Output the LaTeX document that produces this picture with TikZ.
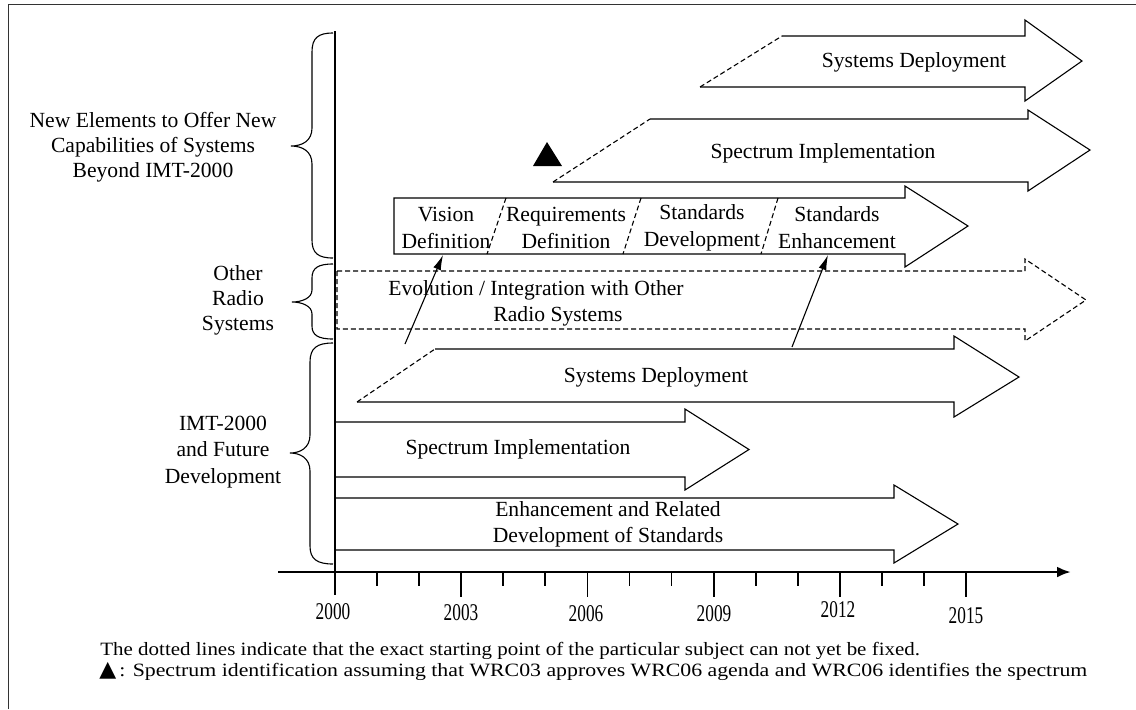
\documentclass[tikz,border=0pt]{standalone}
\usepackage{fontspec}
\setmainfont{Liberation Serif}
\newfontfamily\yearfont[FakeStretch=0.72]{Liberation Serif}
\newfontfamily\footafont[FakeStretch=1.115]{Liberation Serif}
\newfontfamily\footbfont[FakeStretch=1.16]{Liberation Serif}
\newfontfamily\symfont{DejaVu Sans}
\usetikzlibrary{arrows.meta}
\begin{document}
\begin{tikzpicture}[x=0.5pt,y=-0.5pt,
  frame/.style={line width=0.5pt,black!80},
  axisline/.style={line width=1.4pt},
  tickline/.style={line width=0.9pt},
  blk/.style={line width=0.55pt,line join=miter},
  dsh/.style={line width=0.55pt,dash pattern=on 2.5pt off 1.5pt},
  lbl/.style={font=\fontsize{10.8}{13.5}\selectfont,inner sep=0pt,align=center},
  sidelbl/.style={font=\fontsize{10.8}{12.5}\selectfont,inner sep=0pt,align=center},
  yearlbl/.style={font=\yearfont\fontsize{12}{14}\selectfont,inner sep=0pt},
  foot/.style={font=\fontsize{9.4}{11}\selectfont,inner sep=0pt,anchor=west},
  conn/.style={line width=0.55pt,-{Latex[length=7.5pt,width=4pt]}},
  brace/.style={line width=0.55pt}
]
\useasboundingbox (0,0) rectangle (1136,709);
% frame
\draw[frame] (8,709) -- (8,4) -- (1136,4);

% axes
\draw[axisline] (335,31) -- (335,595);
\draw[axisline,-{Latex[length=7pt,width=5.5pt]}] (278,572) -- (1071,572);
\foreach \i in {3,6,9,12,15}{\draw[tickline] ({335+\i*42.07},572) -- ({335+\i*42.07},597);}
\foreach \i in {1,2,4,5,7,8,10,11,13,14}{\draw[tickline] ({335+\i*42.07},572) -- ({335+\i*42.07},586);}

% year labels
\node[yearlbl] (y2000) at (333,612) {2000};
\node[yearlbl] (y2003) at (461,613) {2003};
\node[yearlbl] (y2006) at (586,614) {2006};
\node[yearlbl] (y2009) at (714,614) {2009};
\node[yearlbl] (y2012) at (838,610) {2012};
\node[yearlbl] (y2015) at (966,616) {2015};

% braces
\draw[brace] (333,33) .. controls (318,33) and (312,38) .. (312,52) -- (312,128)
  .. controls (312,141) and (302,146) .. (291,146)
  .. controls (302,146) and (312,151) .. (312,164) -- (312,240)
  .. controls (312,253) and (318,258) .. (333,258);
\draw[brace] (333,264) .. controls (318,264) and (312,268) .. (312,278) -- (312,290)
  .. controls (312,298) and (302,302) .. (292,302)
  .. controls (302,302) and (312,306) .. (312,314) -- (312,326)
  .. controls (312,335) and (318,339) .. (333,339);
\draw[brace] (333,343) .. controls (317,343) and (310,348) .. (310,362) -- (310,435)
  .. controls (310,448) and (300,453) .. (290,453)
  .. controls (300,453) and (310,458) .. (310,471) -- (310,546)
  .. controls (310,559) and (317,564) .. (333,564);

% side labels
\node[sidelbl] (lnew) at (153,147) {New Elements to Offer New\\Capabilities of Systems\\Beyond IMT-2000};
\node[sidelbl] (lother) at (238,300) {Other\\Radio\\Systems};
\node[sidelbl,font=\fontsize{10.8}{13.2}\selectfont] (limt) at (223,452) {IMT-2000\\and Future\\Development};

% top systems deployment
\draw[dsh] (700,87) -- (782,36);
\draw[blk] (782,36) -- (1025,36) -- (1025,20) -- (1082,61) -- (1025,101) -- (1025,87) -- (700,87);
\node[lbl] (tsd) at (914,62) {Systems Deployment};

% upper spectrum implementation
\draw[dsh] (553,182) -- (650,119);
\draw[blk] (650,119) -- (1028,119) -- (1028,110) -- (1090,150) -- (1028,191) -- (1028,182) -- (553,182);
\node[lbl] (tsi) at (823,153) {Spectrum Implementation};
\fill (547,142) -- (562,166) -- (533,166) -- cycle;

% vision arrow
\draw[blk] (394,198) -- (905,198) -- (905,186) -- (968,226) -- (905,267) -- (905,254) -- (394,254) -- cycle;
\draw[dsh] (506,198) -- (487,254);
\draw[dsh] (641,198) -- (623,254);
\draw[dsh] (778,198) -- (761,254);
\node[lbl] (tvis) at (446,227.5) {Vision\\Definition};
\node[lbl] (treq) at (566,227.5) {Requirements\\Definition};
\node[lbl] (tdev) at (702,227.5) {Standards\\Development};
\node[lbl] (tenh) at (837,227.5) {Standards\\Enhancement};

% evolution dashed arrow
\draw[dsh] (337,271) -- (1025,271) -- (1025,259) -- (1086,300) -- (1025,341) -- (1025,329) -- (337,329) -- cycle;
\node[lbl] (tevo1) at (536,290) {Evolution / Integration with Other};
\node[lbl] (tevo2) at (558,316) {Radio Systems};

% lower systems deployment
\draw[dsh] (357,402) -- (435,349);
\draw[blk] (435,349) -- (954,349) -- (954,336) -- (1019,377) -- (954,417) -- (954,402) -- (357,402);
\node[lbl] (tsd2) at (656,377) {Systems Deployment};

% lower spectrum implementation
\draw[blk] (335,422) -- (685,422) -- (685,409) -- (749,449.5) -- (685,490) -- (685,477) -- (335,477);
\node[lbl] (tsi2) at (518,449.5) {Spectrum Implementation};

% enhancement
\draw[blk] (335,498) -- (894,498) -- (894,485) -- (958,524) -- (894,563) -- (894,550) -- (335,550);
\node[lbl,font=\fontsize{10.8}{12.8}\selectfont] (tenr) at (608,524) {Enhancement and Related\\Development of Standards};

% connectors
\coordinate (c1s) at (405,344);
\coordinate (c1e) at (443,255);
\coordinate (c2s) at (792,347);
\coordinate (c2e) at (828,255);
\draw[conn] (c1s) -- (c1e);
\draw[conn] (c2s) -- (c2e);

% footnotes
\node[foot] (fn1) at (100,651) {\footafont The dotted lines indicate that the exact starting point of the particular subject can not yet be fixed.};
\node[foot] (fn2) at (99,671) {{\symfont\fontsize{11}{11}\selectfont ▲}\,{\footbfont: Spectrum identification assuming that WRC03 approves WRC06 agenda and WRC06 identifies the spectrum}};
\end{tikzpicture}
\end{document}
